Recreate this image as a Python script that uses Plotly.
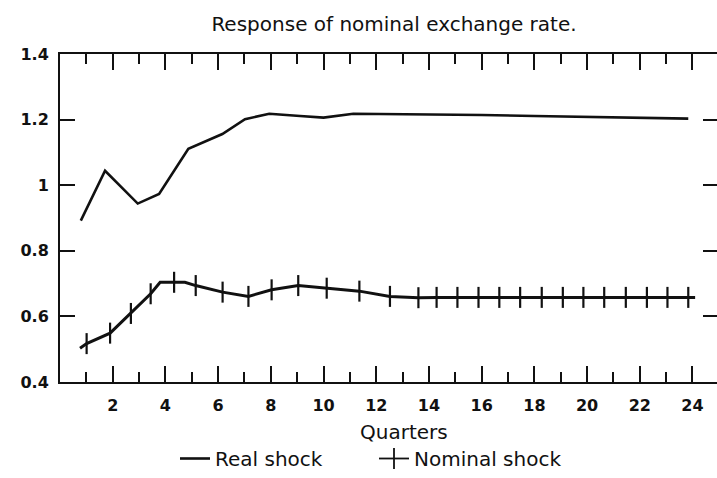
import plotly.graph_objects as go

# Real shock response path (quarters, response)
real_q = [0.79, 1.71, 2.95, 3.76, 4.87, 6.16, 7.02, 7.94, 9.11, 10.0, 11.13,
          13.5, 16.0, 18.0, 20.0, 22.0, 23.84]
real_val = [0.892, 1.044, 0.944, 0.973, 1.111, 1.156, 1.201, 1.218, 1.211, 1.206,
            1.218, 1.217, 1.214, 1.211, 1.208, 1.205, 1.203]

# Nominal shock response path
nom_q = [0.76, 1.01, 1.90, 2.69, 3.44, 3.80, 4.33, 4.74, 5.15, 6.17, 7.15, 8.03,
         9.04, 10.12, 11.36, 12.52, 13.60, 14.29, 15.08, 15.88, 16.67, 17.46,
         18.28, 19.08, 19.86, 20.65, 21.47, 22.27, 23.05, 23.84, 24.10]
nom_val = [0.503, 0.517, 0.549, 0.609, 0.669, 0.704, 0.704, 0.704, 0.694, 0.674,
           0.661, 0.681, 0.694, 0.686, 0.677, 0.661, 0.657, 0.658, 0.658, 0.658,
           0.658, 0.658, 0.658, 0.658, 0.658, 0.658, 0.658, 0.658, 0.658, 0.658, 0.658]
# Quarters at which the nominal path carries a cross mark
nom_mark_q = [1.01, 1.90, 2.69, 3.44, 4.33, 5.15, 6.17, 7.15, 8.03, 9.04, 10.12,
              11.36, 12.52, 13.60, 14.29, 15.08, 15.88, 16.67, 17.46, 18.28,
              19.08, 19.86, 20.65, 21.47, 22.27, 23.05, 23.84]

x_ticks = [2, 4, 6, 8, 10, 12, 14, 16, 18, 20, 22, 24]
y_ticks = [0.4, 0.6, 0.8, 1.0, 1.2, 1.4]
y_labels = ["0.4", "0.6", "0.8", "1", "1.2", "1.4"]

FONT = "DejaVu Sans"
INK = "#111111"

nom_mark_val = [nom_val[nom_q.index(q)] for q in nom_mark_q]

fig = go.Figure()
fig.add_trace(go.Scatter(
    x=real_q, y=real_val, mode="lines", name="Real shock",
    line=dict(color=INK, width=2.6), legend="legend",
))
fig.add_trace(go.Scatter(
    x=nom_q, y=nom_val, mode="lines", name="Nominal shock",
    line=dict(color=INK, width=3), showlegend=False,
))
fig.add_trace(go.Scatter(
    x=nom_mark_q, y=nom_mark_val, mode="markers", name="Nominal shock",
    marker=dict(symbol="line-ns", size=15, line=dict(color=INK, width=2.2)),
    showlegend=False,
))
# legend entry: line with a cross mark
fig.add_trace(go.Scatter(
    x=[None], y=[None], mode="lines+markers", name="Nominal shock",
    line=dict(color=INK, width=1.8),
    marker=dict(symbol="line-ns", size=15, line=dict(color=INK, width=1.8)),
    legend="legend2",
))
# right-hand tick marks
fig.add_trace(go.Scatter(x=[None], y=[None], yaxis="y2", showlegend=False))

legend_common = dict(orientation="h", xanchor="left", y=(386 - 464) / 332,
                     yanchor="middle", font=dict(size=20, family=FONT),
                     itemwidth=30, bgcolor="rgba(0,0,0,0)")

fig.update_layout(
    width=717, height=478,
    margin=dict(l=60, r=0, t=54, b=92),
    paper_bgcolor="white", plot_bgcolor="white",
    font=dict(family=FONT, color=INK),
    title=dict(text="Response of nominal exchange rate.", x=394 / 717, xanchor="center",
               y=1 - 24 / 478, yanchor="middle", font=dict(size=20, family=FONT)),
    showlegend=True,
    legend=dict(x=(175 - 60) / 657, **legend_common),
    legend2=dict(x=(374 - 60) / 657, **legend_common),
    xaxis=dict(
        range=[0, 24.93], tickvals=x_ticks, ticktext=[str(v) for v in x_ticks],
        ticks="inside", ticklen=16, tickwidth=1.8, tickcolor=INK,
        minor=dict(dtick=1, tick0=0, ticks="inside", ticklen=10, tickwidth=1.6, tickcolor=INK),
        showline=True, linecolor=INK, linewidth=2, mirror="ticks",
        showgrid=False, zeroline=False,
        tickfont=dict(size=16, family=FONT, weight="bold"),
        ticklabelstandoff=8,
    ),
    yaxis=dict(
        range=[0.4, 1.4], tickvals=y_ticks, ticktext=y_labels,
        ticks="inside", ticklen=15, tickwidth=1.8, tickcolor=INK,
        showline=True, linecolor=INK, linewidth=2, mirror=False,
        showgrid=False, zeroline=False,
        tickfont=dict(size=16, family=FONT, weight="bold"),
        ticklabelstandoff=6,
    ),
    yaxis2=dict(
        range=[0.4, 1.4], overlaying="y", side="right",
        tickvals=[0.6, 0.8, 1.0, 1.2], showticklabels=False,
        ticks="inside", ticklen=14, tickwidth=1.8, tickcolor=INK,
        showline=False, showgrid=False, zeroline=False,
    ),
    annotations=[dict(text="Quarters", x=(404 - 60) / 657, y=(386 - 437) / 332,
                      xref="paper", yref="paper", xanchor="center", yanchor="middle",
                      showarrow=False, font=dict(size=20, family=FONT))],
)

fig.write_html("out.html")
